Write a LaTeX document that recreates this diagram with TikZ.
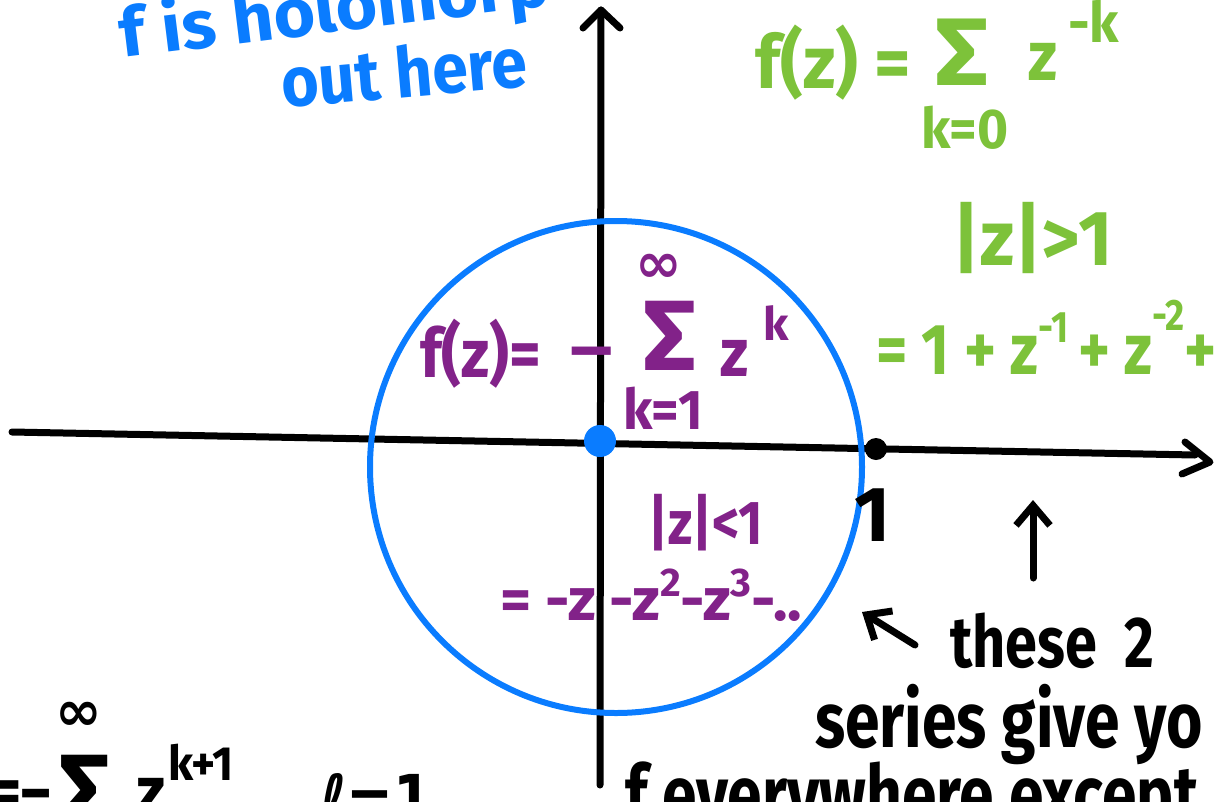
\documentclass[tikz,border=0pt]{standalone}
\usepackage{graphicx}
\usepackage{fontspec}
\setmainfont{Fira Sans}
\newfontfamily\symf{DejaVu Sans}
\usetikzlibrary{arrows.meta}
\definecolor{hblue}{RGB}{10,124,255}
\definecolor{hgreen}{RGB}{125,194,58}
\definecolor{hpurple}{RGB}{130,34,137}
\newcommand\fs[1]{\fontsize{#1}{#1}\selectfont}
\newcommand\nx[2]{\scalebox{#1}[1]{#2}}
\tikzset{
  hw/.style={inner sep=0pt, anchor=base west, font=\bfseries},
  hc/.style={inner sep=0pt, anchor=center, font=\bfseries},
  axis/.style={line width=7pt, line cap=round, line join=round, black},
  pen/.style={line width=7pt, line cap=round, line join=round, black,
     -{Straight Barb[length=20pt,width=34pt,line width=7pt]}},
}
\begin{document}
\begin{tikzpicture}[x=1pt,y=-1pt]
\useasboundingbox (0,0) rectangle (1216,801);
\clip (0,0) rectangle (1216,801);
% axes
\coordinate (xl) at (12,432);
\coordinate (xr) at (1195,455);
\coordinate (yt) at (601,10);
\coordinate (yb) at (600,785);
\draw[axis] (xl) -- (xr);
\draw[axis] (1185,442) -- (1210,462) -- (1182,474);
\draw[axis] (yt) -- (yb);
\draw[axis] (583,28) -- (601,10) -- (620,28);
% circle
\node[draw=hblue, line width=6pt, circle, minimum size=492pt, inner sep=0pt] (circ) at (616,467) {};
\node[fill=hblue, circle, minimum size=32pt, inner sep=0pt] (origin) at (600,441) {};
\node[fill=black, circle, minimum size=22pt, inner sep=0pt] (one) at (876,449) {};
\node[hc, font=\bfseries\fs{78}] (onelbl) at (873,515) {1};
% blue text
\node[hw, text=hblue, rotate=7, font=\bfseries\fs{68}] (holo) at (122,58) {\nx{1.05}{f is holomorp}};
\node[hw, text=hblue, rotate=5, font=\bfseries\fs{70}] (out) at (283,108) {\nx{0.92}{out here}};
% green series
\node[hw, text=hgreen, font=\bfseries\fs{74}] (gf) at (755,88) {\nx{0.95}{f(z) =}};
\node[hc, text=hgreen, font=\bfseries\fs{96}] (gsig) at (962,52) {\nx{1.1}{Σ}};
\node[hw, text=hgreen, font=\bfseries\fs{70}] (gz) at (1028,80) {\nx{0.9}{z}};
\node[hw, text=hgreen, font=\bfseries\fs{56}] (gk) at (1068,42) {\nx{0.95}{-k}};
\node[hc, text=hgreen, font=\bfseries\fs{56}] (gk0) at (965,128) {\nx{0.95}{k=0}};
\node[hw, text=hgreen, font=\bfseries\fs{78}] (gcond) at (952,265) {\nx{0.95}{|z|>1}};
\node[hw, text=hgreen, font=\bfseries\fs{72}] (gexp) at (876,374) {\nx{0.84}{= 1 + z\raisebox{32pt}{\fs{44}-1}\,+ z\raisebox{44pt}{\fs{44}-2}+}};
% purple series
\node[hw, text=hpurple, font=\bfseries\fs{68}] (pf) at (420,377) {\nx{0.9}{f(z)=}};
\node[hw, text=hpurple, font=\bfseries\fs{68}] (pminus) at (570,372) {\nx{1.2}{–}};
\node[hc, text=hpurple, font=\bfseries\fs{100}] (psig) at (670,336) {\nx{1.05}{Σ}};
\node[hc, text=hpurple, font=\symf\bfseries\fs{56}] (pinf) at (659,268) {∞};
\node[hw, text=hpurple, font=\bfseries\fs{68}] (pz) at (720,376) {\nx{0.9}{z}};
\node[hw, text=hpurple, font=\bfseries\fs{46}] (pk) at (763,340) {k};
\node[hc, text=hpurple, font=\bfseries\fs{56}] (pk1) at (663,408) {\nx{0.95}{k=1}};
\node[hw, text=hpurple, font=\bfseries\fs{62}] (pcond) at (648,544) {\nx{0.85}{|z|<1}};
\node[hw, text=hpurple, font=\bfseries\fs{60}] (pexp) at (500,620) {\nx{1.0}{= -z -z\raisebox{24pt}{\fs{40}2}-z\raisebox{24pt}{\fs{40}3}-..}};
% black notes
\coordinate (a1s) at (1033,578);
\coordinate (a1e) at (1033,500);
\draw[pen] (a1s) -- (a1e);
\coordinate (a2s) at (915,645);
\coordinate (a2e) at (862,612);
\draw[pen] (a2s) -- (a2e);
\node[hw, font=\bfseries\fs{72}] (these) at (950,667) {\nx{0.8}{these\ \ 2}};
\node[hw, font=\bfseries\fs{78}] (series) at (815,747) {\nx{0.8}{series give yo}};
\node[hw, font=\bfseries\fs{80}] (every) at (625,822) {\nx{0.78}{f everywhere except}};
% bottom-left
\node[hc, font=\symf\bfseries\fs{56}] (binf) at (79,716) {∞};
\node[hw, font=\bfseries\fs{70}] (beq) at (-8,815) {\nx{0.8}{=–}};
\node[hc, font=\bfseries\fs{100}] (bsig) at (85,790) {Σ};
\node[hw, font=\bfseries\fs{70}] (bz) at (136,815) {\nx{0.9}{z}};
\node[hw, font=\bfseries\fs{48}] (bk) at (168,780) {\nx{0.95}{k+1}};
\node[hw, font=\symf\bfseries\fs{66}] (bl) at (320,822) {\nx{0.85}{ℓ=1}};
\end{tikzpicture}
\end{document}
